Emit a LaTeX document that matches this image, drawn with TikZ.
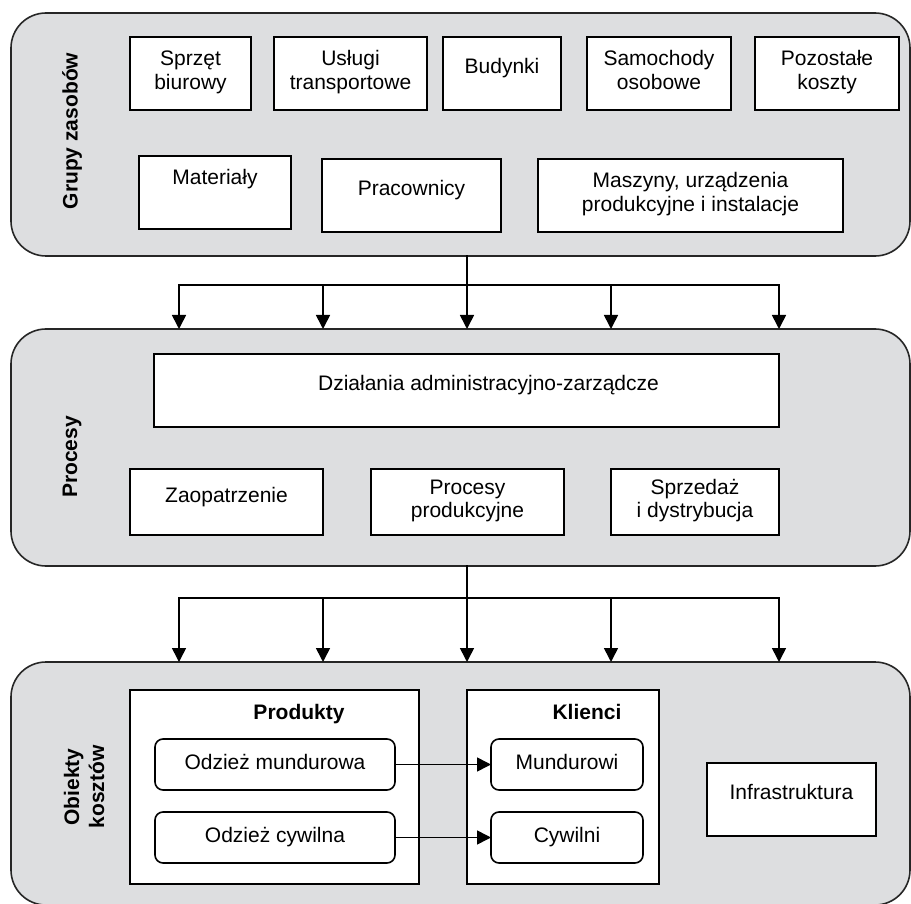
\documentclass[tikz,border=0pt]{standalone}
\usepackage{fontspec}
\setmainfont{Liberation Sans}
\usetikzlibrary{arrows.meta}
\definecolor{panelgray}{RGB}{221,222,224}
\newcommand{\OneL}[1]{\rule[-16pt]{0pt}{32pt}#1}
\newcommand{\TwoL}[2]{\rule{0pt}{16pt}#1\\#2\rule[-7.7pt]{0pt}{7.7pt}}
\newcommand{\RndL}[1]{\rule[-7pt]{0pt}{23pt}#1}
\begin{document}
\begin{tikzpicture}[x=1pt, y=-1pt,
  font=\fontsize{21}{23.3}\selectfont,
  panel/.style={draw=black!85, fill=panelgray, line width=1.6pt, rounded corners=35pt, inner sep=0pt, outer sep=0pt},
  box/.style={draw=black, fill=white, line width=1.6pt, inner sep=0pt, outer sep=0pt, align=center},
  rbox/.style={box, rounded corners=8pt},
  sidelabel/.style={rotate=90, font=\fontsize{21}{25}\selectfont\bfseries, align=center, inner sep=0pt},
  grouptitle/.style={font=\fontsize{21}{23.3}\selectfont\bfseries, anchor=base, inner sep=0pt},
  conn/.style={line width=1.6pt, draw=black, line cap=rect},
  arr/.style={conn, -{Triangle[length=14pt,width=14pt]}}]
\useasboundingbox (0,0) rectangle (911,904);

% panels
\node[panel, minimum width=899pt, minimum height=243pt] (p1) at (460.5,134.5) {};
\node[panel, minimum width=899pt, minimum height=237pt] (p2) at (460.5,447.5) {};
\node[panel, minimum width=899pt, minimum height=243pt] (p3) at (460.5,783.5) {};

% side labels
\node[sidelabel] (lab1) at (72,131) {Grupy zasobów};
\node[sidelabel] (lab2) at (72,457) {Procesy};
\node[sidelabel] (lab3) at (84,787) {Obiekty\\kosztów};

% panel 1
\node[box, minimum width=121pt, minimum height=73pt] (sprzet) at (190.5,73.5) {\TwoL{Sprzęt}{biurowy}};
\node[box, minimum width=153pt, minimum height=73pt] (uslugi) at (350.5,73.5) {\TwoL{Usługi}{transportowe}};
\node[box, minimum width=118pt, minimum height=73pt] (budynki) at (502,73.5) {\OneL{Budynki}};
\node[box, minimum width=144pt, minimum height=73pt] (samoch) at (659,73.5) {\TwoL{Samochody}{osobowe}};
\node[box, minimum width=144pt, minimum height=73pt] (pozost) at (827,73.5) {\TwoL{Pozostałe}{koszty}};
\node[box, minimum width=152pt, minimum height=73pt] (mater) at (215,192.5) {\TwoL{Materiały}{}};
\node[box, minimum width=179pt, minimum height=73pt] (pracow) at (411.5,195.5) {\OneL{Pracownicy}};
\node[box, minimum width=305pt, minimum height=73pt] (maszyn) at (690.5,195.5) {\TwoL{Maszyny, urządzenia}{produkcyjne i instalacje}};

% panel 2
\node[box, minimum width=625pt, minimum height=73pt] (dzial) at (466.5,390.5) {\OneL{\hspace*{44pt}Działania administracyjno-zarządcze}};
\node[box, minimum width=193pt, minimum height=66pt] (zaop) at (226.5,502) {\OneL{Zaopatrzenie}};
\node[box, minimum width=193pt, minimum height=66pt] (procprod) at (467.5,502) {\TwoL{Procesy}{produkcyjne}};
\node[box, minimum width=168pt, minimum height=66pt] (sprzed) at (695,502) {\TwoL{Sprzedaż}{i dystrybucja}};

% panel 3
\node[box, minimum width=289pt, minimum height=194pt] (produkty) at (274.5,787) {};
\node[box, minimum width=192pt, minimum height=194pt] (klienci) at (563,787) {};
\node[grouptitle] (produktyT) at (299,719) {Produkty};
\node[grouptitle] (klienciT) at (587,719) {Klienci};
\node[rbox, minimum width=240pt, minimum height=51pt] (odzm) at (275,764.5) {\RndL{Odzież mundurowa}};
\node[rbox, minimum width=240pt, minimum height=51pt] (odzc) at (275,837.5) {\RndL{Odzież cywilna}};
\node[rbox, minimum width=152pt, minimum height=51pt] (mund) at (567,764.5) {\RndL{Mundurowi}};
\node[rbox, minimum width=152pt, minimum height=51pt] (cyw) at (567,837.5) {\RndL{Cywilni}};
\node[box, minimum width=169pt, minimum height=73pt] (infra) at (791.5,799.5) {\OneL{Infrastruktura}};

\draw[arr] (odzm) -- (mund);
\draw[arr] (odzc) -- (cyw);

% bus 1
\coordinate (a1) at (179,285);
\coordinate (a2) at (323,285);
\coordinate (a3) at (467,285);
\coordinate (a4) at (611,285);
\coordinate (a5) at (779,285);
\draw[conn] (p1.south -| a3) -- (a3);
\draw[conn] (a1) -- (a5);
\foreach \c in {a1,a2,a3,a4,a5} \draw[arr] (\c) -- (\c |- p2.north);

% bus 2
\coordinate (b1) at (179,598);
\coordinate (b2) at (323,598);
\coordinate (b3) at (467,598);
\coordinate (b4) at (611,598);
\coordinate (b5) at (779,598);
\draw[conn] (p2.south -| b3) -- (b3);
\draw[conn] (b1) -- (b5);
\foreach \c in {b1,b2,b3,b4,b5} \draw[arr] (\c) -- (\c |- p3.north);
\end{tikzpicture}
\end{document}
